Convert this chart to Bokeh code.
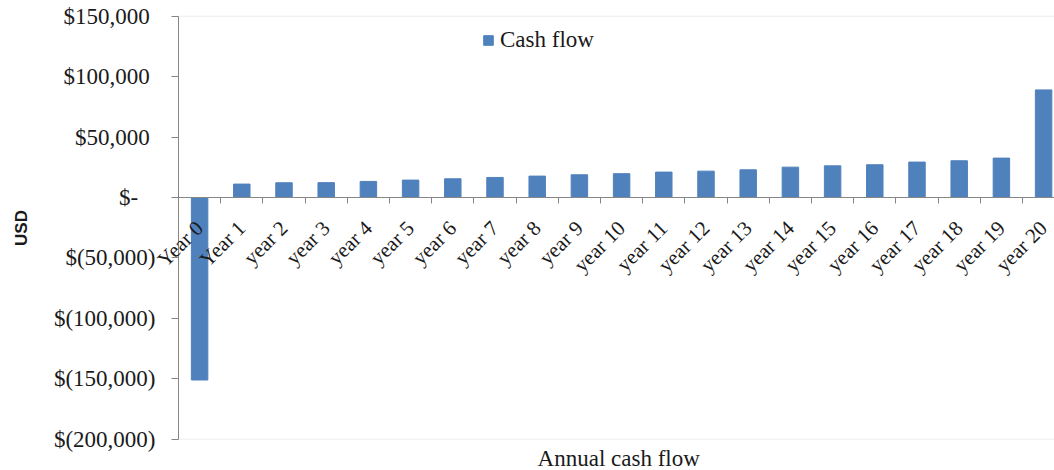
import math
from bokeh.plotting import figure
from bokeh.models import (Range1d, LinearAxis, FixedTicker, Legend, LegendItem,
                          Label, ColumnDataSource, LabelSet, BoxAnnotation)
from bokeh.embed import file_html
from bokeh.resources import INLINE

# ---- data ----
categories = ["Year 0", "Year 1", "year 2", "year 3", "year 4", "year 5",
              "year 6", "year 7", "year 8", "year 9", "year 10", "year 11",
              "year 12", "year 13", "year 14", "year 15", "year 16",
              "year 17", "year 18", "year 19", "year 20"]
cash_flow = [-151000, 11100, 12200, 12300, 13300, 14400, 15500, 16600,
             17700, 18800, 19700, 21000, 21800, 22900, 25100, 26200,
             27100, 29300, 30400, 32600, 89000]
y_ticks = [-200000, -150000, -100000, -50000, 0, 50000, 100000, 150000]
y_tick_labels = ["$(200,000)", "$(150,000)", "$(100,000)", "$(50,000)",
                 "$-\u00a0\u00a0\u00a0", "$50,000\u00a0", "$100,000\u00a0",
                 "$150,000\u00a0"]
series_name = "Cash flow"
x_title = "Annual  cash flow"
y_title = "USD"

# ---- build ----
n = len(categories)
centers = [i + 0.5 for i in range(n)]
bounds = [float(i) for i in range(n + 1)]
source = ColumnDataSource(dict(x=centers, top=cash_flow, name=categories,
                               base=[0] * n))

SERIF = "Liberation Serif"
TXT = "#1a1a1a"
AX = "#868686"

W, H = 1054, 470
X0 = 178                # px where the category axis starts
CAT_PX = 42.2           # px per category
Y0 = 197                # px of the zero line (from top)
UNIT = 350000 / 423     # value per px
x_start, x_end = -X0 / CAT_PX, (W - X0) / CAT_PX
y_start, y_end = -(H - Y0) * UNIT, Y0 * UNIT

p = figure(width=W, height=H, output_backend="svg", toolbar_location=None,
           x_range=Range1d(x_start, x_end), y_range=Range1d(y_start, y_end),
           x_axis_location=None, y_axis_location=None,
           min_border=0)
p.grid.visible = False
p.outline_line_color = None
p.background_fill_color = "white"
p.border_fill_color = "white"

# plot-area border
p.add_layout(BoxAnnotation(left=0, top=y_ticks[-1], bottom=y_ticks[0],
                           fill_alpha=0, line_color="#c0c0c0",
                           line_width=1, level="underlay"))

r = p.vbar(x="x", top="top", bottom=0, width=0.39, source=source,
           fill_color="#4f81bd", line_color="#4f81bd")

# x axis at y = 0 (ticks at category boundaries)
xaxis = LinearAxis(fixed_location=0, bounds=(0, x_end),
                   ticker=FixedTicker(ticks=centers, minor_ticks=bounds))
xaxis.major_tick_line_color = None
xaxis.minor_tick_line_color = AX
xaxis.minor_tick_out = 6
xaxis.minor_tick_in = 0
xaxis.axis_line_color = AX
xaxis.major_label_text_font_size = "0px"
xaxis.major_label_text_alpha = 0
p.add_layout(xaxis, "below")

# category labels, rotated 45 degrees, ending just under each category
labels = LabelSet(x="x", y="base", text="name", source=source,
                  angle=math.pi / 4, text_align="right",
                  text_baseline="middle", x_offset=0, y_offset=-27,
                  text_font=SERIF, text_font_size="21px", text_color=TXT)
p.add_layout(labels)

# y axis at x = 0
ya = LinearAxis(fixed_location=0, bounds=(y_ticks[0], y_ticks[-1]),
                ticker=FixedTicker(ticks=y_ticks))
ya.major_label_overrides = {t: s for t, s in zip(y_ticks, y_tick_labels)}
ya.minor_tick_line_color = None
ya.major_tick_out = 7
ya.major_tick_in = 0
ya.major_tick_line_color = AX
ya.axis_line_color = AX
ya.major_label_standoff = 16
ya.major_label_text_font = SERIF
ya.major_label_text_font_size = "23px"
ya.major_label_text_color = TXT
ya.axis_label = y_title
ya.axis_label_text_font = "Liberation Sans"
ya.axis_label_text_font_style = "bold"
ya.axis_label_text_font_size = "17px"
ya.axis_label_text_color = TXT
ya.axis_label_standoff = 20
p.add_layout(ya, "left")

# x title
p.add_layout(Label(x=n / 2, y=12, y_units="screen", text=x_title,
                   text_align="center", text_baseline="middle",
                   text_font=SERIF, text_font_size="23px", text_color=TXT))

legend = Legend(items=[LegendItem(label=series_name, renderers=[r])],
                location=(482, 417), border_line_color=None,
                background_fill_alpha=0, padding=0, margin=0,
                glyph_width=12, glyph_height=12, label_standoff=6,
                label_text_font=SERIF, label_text_font_size="23px",
                label_text_color=TXT)
p.add_layout(legend, "center")

open("out.html", "w").write(file_html(p, INLINE))
